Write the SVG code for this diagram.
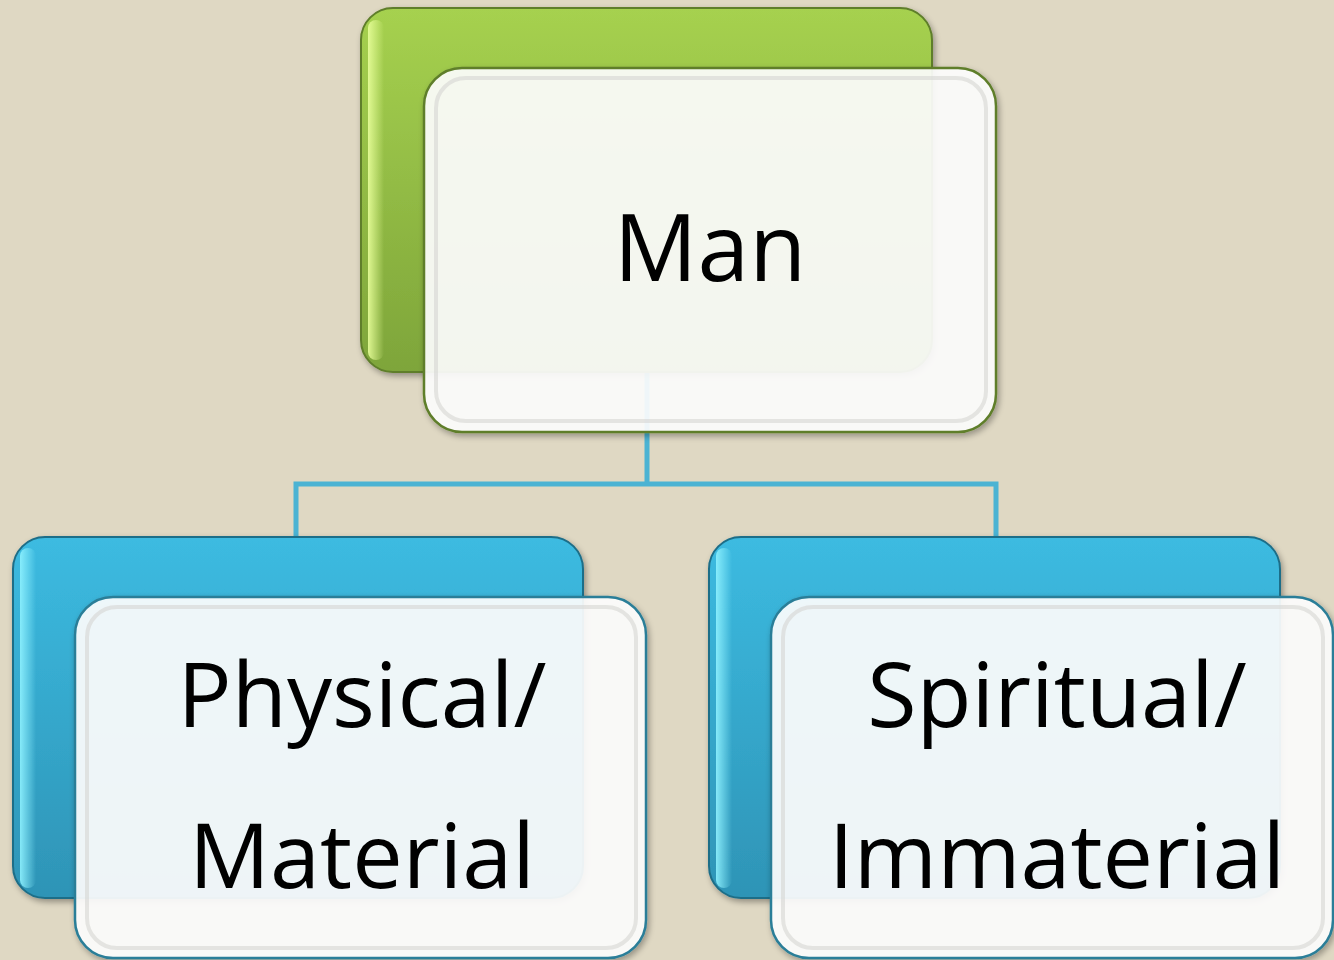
<svg xmlns="http://www.w3.org/2000/svg" width="1334" height="960" viewBox="0 0 1334 960">
<defs>
<linearGradient id="gGreen" x1="0" y1="0" x2="0" y2="1">
<stop offset="0" stop-color="#A6D14F"/>
<stop offset="1" stop-color="#7EA53A"/>
</linearGradient>
<linearGradient id="gBlue" x1="0" y1="0" x2="0" y2="1">
<stop offset="0" stop-color="#3CBBE1"/>
<stop offset="1" stop-color="#2E94B6"/>
</linearGradient>
<linearGradient id="gHiG" x1="0" y1="0" x2="1" y2="0">
<stop offset="0" stop-color="#E8FF9A" stop-opacity="0.9"/>
<stop offset="1" stop-color="#E8FF9A" stop-opacity="0"/>
</linearGradient>
<linearGradient id="gHiB" x1="0" y1="0" x2="1" y2="0">
<stop offset="0" stop-color="#8FF2FF" stop-opacity="0.9"/>
<stop offset="1" stop-color="#8FF2FF" stop-opacity="0"/>
</linearGradient>
<filter id="sh" x="-5%" y="-5%" width="112%" height="112%">
<feGaussianBlur in="SourceAlpha" stdDeviation="3"/>
<feOffset dx="2" dy="3" result="b"/>
<feComponentTransfer><feFuncA type="linear" slope="0.35"/></feComponentTransfer>
<feMerge><feMergeNode/><feMergeNode in="SourceGraphic"/></feMerge>
</filter>
</defs>
<style>
.bg{fill:#DFD8C3}
.backG{fill:url(#gGreen);stroke:#5E7E2A;stroke-width:2}
.backB{fill:url(#gBlue);stroke:#1F6E88;stroke-width:2}
.frontG{fill:#FFFFFF;fill-opacity:0.9;stroke:#5E7E2A;stroke-width:2.5}
.frontB{fill:#FFFFFF;fill-opacity:0.9;stroke:#2A7E98;stroke-width:2.5}
.bevel{fill:none;stroke:#D6D6D2;stroke-width:4;opacity:0.6}
.lbl{font-family:"Open Sans","Liberation Sans",Arial,sans-serif;fill:#000000;text-anchor:middle}
.conn{fill:none;stroke:#4BB3D3;stroke-width:5}
</style>
<rect class="bg" x="0" y="0" width="1334" height="960"/>
<g id="connectors">
<path class="conn" d="M647 372 V484 M296 537 V484 H996 V537"/>
</g>
<g id="node-man">
<rect class="backG" x="361" y="8" width="571" height="364" rx="32" filter="url(#sh)"/>
<rect x="368" y="20" width="16" height="340" rx="8" fill="url(#gHiG)"/>
<rect class="frontG" x="424" y="68" width="572" height="364" rx="38" filter="url(#sh)"/>
<rect class="bevel" x="436" y="78" width="550" height="343" rx="30"/>
<text class="lbl" x="710" y="281" font-size="93">Man</text>
</g>
<g id="node-physical">
<rect class="backB" x="13" y="537" width="570" height="361" rx="32" filter="url(#sh)"/>
<rect x="20" y="548" width="16" height="340" rx="8" fill="url(#gHiB)"/>
<rect class="frontB" x="75" y="597" width="571" height="361" rx="38" filter="url(#sh)"/>
<rect class="bevel" x="87" y="607" width="549" height="341" rx="30"/>
<text class="lbl" x="362" y="727" font-size="90">Physical/</text>
<text class="lbl" x="362" y="888" font-size="90">Material</text>
</g>
<g id="node-spiritual">
<rect class="backB" x="709" y="537" width="571" height="361" rx="32" filter="url(#sh)"/>
<rect x="716" y="548" width="16" height="340" rx="8" fill="url(#gHiB)"/>
<rect class="frontB" x="771" y="597" width="562" height="361" rx="38" filter="url(#sh)"/>
<rect class="bevel" x="783" y="607" width="540" height="341" rx="30"/>
<text class="lbl" x="1057" y="727" font-size="90">Spiritual/</text>
<text class="lbl" x="1057" y="888" font-size="90">Immaterial</text>
</g>
</svg>
